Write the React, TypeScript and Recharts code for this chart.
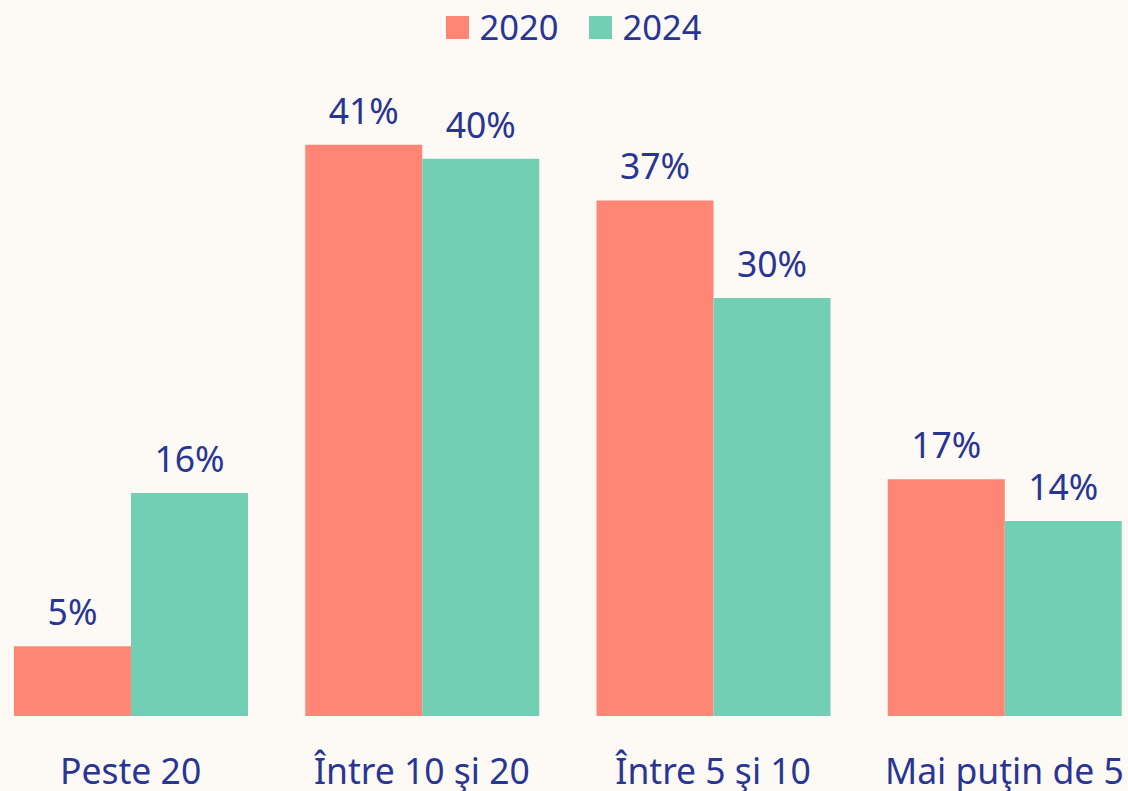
import { BarChart, Bar, XAxis, YAxis, Legend, LabelList } from "recharts";

const categories = ["Peste 20", "Între 10 şi 20", "Între 5 şi 10", "Mai puţin de 5"];
const values2020 = [5, 41, 37, 17];
const values2024 = [16, 40, 30, 14];

const SERIES = [
  { key: "y2020", name: "2020", color: "#FF8575" },
  { key: "y2024", name: "2024", color: "#72CFB4" },
];

const TEXT = "#283593";
const FONT = "'Noto Sans', 'Open Sans', sans-serif";

const data = categories.map((name, i) => ({
  name,
  y2020: values2020[i],
  y2024: values2024[i],
}));

const CategoryTick = (props: any) => {
  const { x, y, payload } = props;
  return (
    <text x={x} y={y} dy={68} textAnchor="middle" fill={TEXT} fontSize={35.5} fontFamily={FONT}>
      {payload.value}
    </text>
  );
};

// legend is a bit right of centre in the original
const LegendContent = () => (
  <div
    style={{
      display: "flex",
      justifyContent: "center",
      height: 50,
      paddingLeft: 19,
      fontFamily: FONT,
      fontSize: 34.5,
      color: TEXT,
    }}
  >
    {SERIES.map((s) => (
      <div key={s.key} style={{ display: "flex", alignItems: "center", margin: "0 15px", height: 54 }}>
        <div style={{ width: 23, height: 23, background: s.color, marginRight: 11 }} />
        <span style={{ lineHeight: "36px" }}>{s.name}</span>
      </div>
    ))}
  </div>
);

const App = () => {
  return (
    <div
      style={{
        position: "absolute",
        top: 0,
        left: 0,
        width: 1128,
        height: 791,
        background: "#FDF9F4",
        overflow: "hidden",
      }}
    >
      <BarChart
        width={1128}
        height={791}
        data={data}
        margin={{ top: 39, right: -22, left: -15, bottom: 0 }}
        barCategoryGap={29}
        barGap={0}
      >
        <Legend
          verticalAlign="top"
          height={50}
          content={<LegendContent />}
          wrapperStyle={{ top: 0, left: 0, width: 1128 }}
        />
        <XAxis
          dataKey="name"
          axisLine={false}
          tickLine={false}
          tickSize={0}
          tickMargin={0}
          height={75}
          interval={0}
          tick={<CategoryTick />}
        />
        <YAxis hide domain={[0, 45]} />
        {SERIES.map((s) => (
          <Bar key={s.key} dataKey={s.key} name={s.name} fill={s.color} isAnimationActive={false}>
            <LabelList
              dataKey={s.key}
              position="top"
              offset={21}
              formatter={(v: number) => `${v}%`}
              fill={TEXT}
              fontSize={35.5}
              fontFamily={FONT}
            />
          </Bar>
        ))}
      </BarChart>
    </div>
  );
};

export default App;
